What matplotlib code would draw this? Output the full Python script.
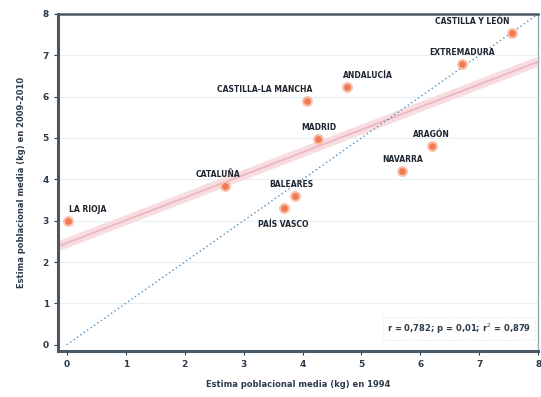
import matplotlib
matplotlib.use('Agg')
import matplotlib.pyplot as plt
import numpy as np

# Estimated values
regions = ['LA RIOJA', 'CATALUÑA', 'BALEARES', 'PAÍS VASCO', 'MADRID',
           'CASTILLA-LA MANCHA', 'ANDALUCÍA', 'EXTREMADURA', 'CASTILLA Y LEÓN',
           'ARAGÓN', 'NAVARRA']
est_1994 = [0.02, 2.69, 3.88, 3.68, 4.27, 4.07, 4.75, 6.71, 7.56, 6.19, 5.69]
est_2009 = [3.00, 3.84, 3.60, 3.31, 4.98, 5.90, 6.23, 6.79, 7.54, 4.81, 4.20]
ticks = [0, 1, 2, 3, 4, 5, 6, 7, 8]

text_col = '#2e3b4a'
fig = plt.figure(figsize=(5.41, 3.97), dpi=100)
ax = fig.add_axes([0.107, 0.116, 0.888, 0.849])
ax.set_xlim(-0.15, 8)
ax.set_ylim(-0.15, 8)

for t in ticks[1:]:
    ax.axhline(t, color='#e8f0f7', lw=0.8, zorder=0)

# identity line
ax.plot([0, 8], [0, 8], color='#4a90c0', lw=1.0, ls=(0, (1, 2)), zorder=2)

# regression line with band
slope, inter = np.polyfit(est_1994, est_2009, 1)
xs = np.array([-0.15, 8])
ax.plot(xs, slope * xs + inter, color='#f7dde0', lw=7, solid_capstyle='butt', zorder=1)
ax.plot(xs, slope * xs + inter, color='#ecb4bc', lw=1.2, zorder=1.5)

ax.scatter(est_1994, est_2009, s=40, color='#f07a55', edgecolor='#f8c0a8',
           linewidth=1.5, zorder=3)

below = {'PAÍS VASCO'}
offsets = {'CASTILLA-LA MANCHA': (-30, 0), 'ANDALUCÍA': (15, 0), 'CASTILLA Y LEÓN': (-29, 0),
           'LA RIOJA': (14, 0), 'CATALUÑA': (-5, 0), 'BALEARES': (-3, 0)}
for name, x, y in zip(regions, est_1994, est_2009):
    dx, dy = offsets.get(name, (0, 0))
    if name in below:
        ax.annotate(name, (x, y), xytext=(dx, -9), textcoords='offset points',
                    ha='center', va='top', fontsize=5.5, fontweight='bold',
                    color='#1e2630', zorder=4)
    else:
        ax.annotate(name, (x, y), xytext=(dx, 5), textcoords='offset points',
                    ha='center', va='bottom', fontsize=5.5, fontweight='bold',
                    color='#1e2630', zorder=4)

ax.text(0.985, 0.045, 'r = 0,782; p = 0,01; r$^2$ = 0,879', transform=ax.transAxes,
        ha='right', va='bottom', fontsize=6, fontweight='bold', color=text_col,
        bbox=dict(boxstyle='square,pad=0.5', fc='white', ec='#d8e4ee', ls=':', lw=0.8))

ax.set_xticks(ticks)
ax.set_yticks(ticks)
ax.tick_params(labelsize=6.5, colors=text_col, length=3, width=0.8, direction='out')
for lab in ax.get_xticklabels() + ax.get_yticklabels():
    lab.set_fontweight('bold')

for side, w in [('left', 2.2), ('bottom', 2.2), ('top', 1.8), ('right', 1.0)]:
    ax.spines[side].set_linewidth(w)
    ax.spines[side].set_color('#4a5866' if side != 'right' else '#9aa6b2')

ax.set_xlabel('Estima poblacional media (kg) en 1994', fontsize=6, fontweight='bold',
              color=text_col, labelpad=8)
ax.set_ylabel('Estima poblacional media (kg) en 2009-2010', fontsize=6, fontweight='bold',
              color=text_col, labelpad=12)

fig.savefig('out.png', dpi=100)
